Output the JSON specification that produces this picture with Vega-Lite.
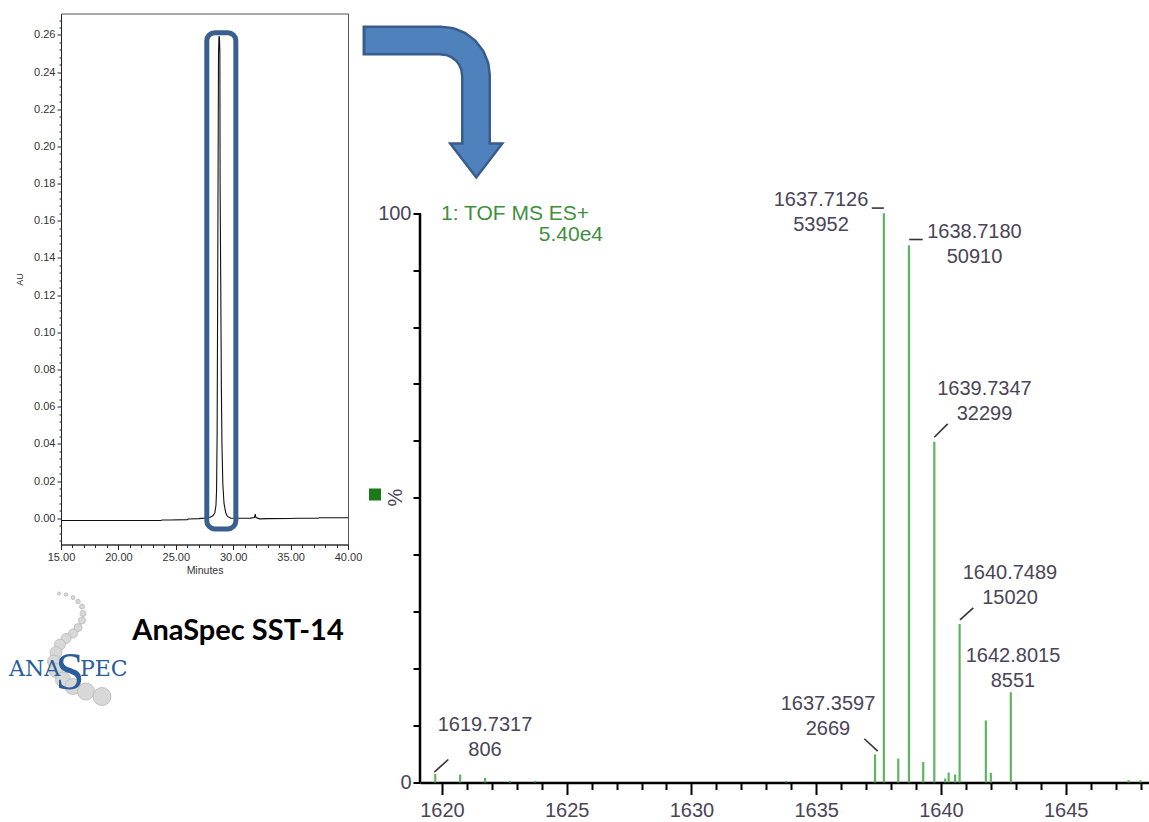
{
  "$schema": "https://vega.github.io/schema/vega-lite/v6.json",
  "background": "white",
  "padding": {"left": 8, "top": 12.5, "right": 0, "bottom": 0},
  "spacing": 72,
  "bounds": "flush",
  "config": {"font": "Liberation Sans", "axis": {"grid": false}},
  "datasets": {
    "chrom": [
      {"t": 15.0, "au": -0.0012}, {"t": 17.0, "au": -0.0012}, {"t": 20.0, "au": -0.0012}, {"t": 22.0, "au": -0.0012},
      {"t": 23.7, "au": -0.0012}, {"t": 23.8, "au": -0.0009}, {"t": 24.5, "au": -0.0009}, {"t": 26.0, "au": -0.0007},
      {"t": 26.1, "au": -0.0004}, {"t": 27.0, "au": -0.0002}, {"t": 27.5, "au": 0.0001}, {"t": 28.0, "au": 0.0006},
      {"t": 28.25, "au": 0.0015}, {"t": 28.4, "au": 0.003}, {"t": 28.5, "au": 0.007}, {"t": 28.55, "au": 0.015},
      {"t": 28.6, "au": 0.045}, {"t": 28.64, "au": 0.11}, {"t": 28.68, "au": 0.18}, {"t": 28.72, "au": 0.25},
      {"t": 28.76, "au": 0.259}, {"t": 28.8, "au": 0.259}, {"t": 28.84, "au": 0.25}, {"t": 28.86, "au": 0.18},
      {"t": 28.9, "au": 0.14}, {"t": 28.93, "au": 0.11}, {"t": 28.97, "au": 0.07}, {"t": 29.02, "au": 0.04},
      {"t": 29.1, "au": 0.018}, {"t": 29.2, "au": 0.008}, {"t": 29.35, "au": 0.003}, {"t": 29.5, "au": 0.001},
      {"t": 29.8, "au": 0.0}, {"t": 30.5, "au": 0.0}, {"t": 31.5, "au": 0.0001}, {"t": 31.85, "au": 0.0004},
      {"t": 31.92, "au": 0.0022}, {"t": 31.98, "au": 0.0004}, {"t": 32.3, "au": -0.0003}, {"t": 33.0, "au": -0.0002},
      {"t": 35.0, "au": -0.0001}, {"t": 35.6, "au": 0.0}, {"t": 37.4, "au": 0.0}, {"t": 37.5, "au": 0.0003},
      {"t": 40.0, "au": 0.0003}
    ],
    "box": [{"t0": 27.70, "t1": 30.23, "a0": -0.0057, "a1": 0.2612}],
    "spheres": [
      {"t": 14.826, "a": -0.04048, "s": 9}, {"t": 15.436, "a": -0.04102, "s": 12}, {"t": 16.045, "a": -0.04264, "s": 16},
      {"t": 16.481, "a": -0.04478, "s": 20}, {"t": 16.829, "a": -0.04747, "s": 25}, {"t": 16.916, "a": -0.05124, "s": 36},
      {"t": 16.829, "a": -0.05500, "s": 49}, {"t": 16.481, "a": -0.05877, "s": 64}, {"t": 16.045, "a": -0.06199, "s": 81},
      {"t": 15.436, "a": -0.06468, "s": 100}, {"t": 14.913, "a": -0.06790, "s": 121}, {"t": 14.564, "a": -0.07220, "s": 144},
      {"t": 14.390, "a": -0.07704, "s": 169}, {"t": 14.564, "a": -0.08188, "s": 196}, {"t": 15.174, "a": -0.08672, "s": 225},
      {"t": 16.045, "a": -0.09048, "s": 256}, {"t": 17.178, "a": -0.09317, "s": 289}, {"t": 18.571, "a": -0.09586, "s": 324}
    ],
    "logoSmall": [
      {"t": 10.470, "a": -0.08081, "txt": "ANA"},
      {"t": 16.655, "a": -0.08081, "txt": "PEC"}
    ],
    "logoBig": [{"t": 15.784, "a": -0.08296, "txt": "S"}],
    "title": [{"t": 30.418, "a": -0.06038, "txt": "AnaSpec SST-14"}],
    "arrowOuter": [
      {"i": 0, "x": 1616.816, "y": 130.33}, {"i": 1, "x": 1619.962, "y": 130.33}, {"i": 2, "x": 1620.325, "y": 130.13},
      {"i": 3, "x": 1620.663, "y": 129.51}, {"i": 4, "x": 1620.954, "y": 128.54}, {"i": 5, "x": 1621.177, "y": 127.26},
      {"i": 6, "x": 1621.317, "y": 125.78}, {"i": 7, "x": 1621.365, "y": 124.18}, {"i": 8, "x": 1621.365, "y": 111.89}
    ],
    "arrowInner": [
      {"i": 0, "x": 1616.936, "y": 130.33}, {"i": 1, "x": 1619.962, "y": 130.33}, {"i": 2, "x": 1620.325, "y": 130.13},
      {"i": 3, "x": 1620.663, "y": 129.51}, {"i": 4, "x": 1620.954, "y": 128.54}, {"i": 5, "x": 1621.177, "y": 127.26},
      {"i": 6, "x": 1621.317, "y": 125.78}, {"i": 7, "x": 1621.365, "y": 124.18}, {"i": 8, "x": 1621.365, "y": 111.2}
    ],
    "arrowHead": [{"x": 1621.375, "y": 109.26}],
    "peaks": [
      {"mz": 1619.7317, "pct": 1.49}, {"mz": 1620.73, "pct": 1.4}, {"mz": 1621.73, "pct": 0.8},
      {"mz": 1622.73, "pct": 0.3}, {"mz": 1623.74, "pct": 0.3}, {"mz": 1633.8, "pct": 0.25},
      {"mz": 1637.3597, "pct": 4.95}, {"mz": 1637.7126, "pct": 100}, {"mz": 1638.29, "pct": 4.2},
      {"mz": 1638.718, "pct": 94.36}, {"mz": 1639.29, "pct": 3.6}, {"mz": 1639.7347, "pct": 59.87},
      {"mz": 1640.17, "pct": 0.7}, {"mz": 1640.31, "pct": 1.75}, {"mz": 1640.57, "pct": 1.4},
      {"mz": 1640.7489, "pct": 27.84}, {"mz": 1641.8, "pct": 10.9}, {"mz": 1642.0, "pct": 1.7},
      {"mz": 1642.8015, "pct": 15.85}, {"mz": 1647.52, "pct": 0.4}, {"mz": 1648.0, "pct": 0.4}
    ],
    "connectors": [
      {"x": 1637.23, "y": 100.9, "x2": 1637.71, "y2": 100.9},
      {"x": 1638.73, "y": 95.38, "x2": 1639.27, "y2": 95.38},
      {"x": 1639.733, "y": 60.65, "x2": 1640.27, "y2": 63.0},
      {"x": 1640.763, "y": 28.58, "x2": 1641.297, "y2": 30.69},
      {"x": 1636.928, "y": 7.68, "x2": 1637.465, "y2": 5.5},
      {"x": 1619.693, "y": 1.81, "x2": 1620.254, "y2": 4.04}
    ],
    "labels": [
      {"x": 1635.192, "y": 101.18, "txt": "1637.7126\n53952"},
      {"x": 1641.344, "y": 95.73, "txt": "1638.7180\n50910"},
      {"x": 1641.745, "y": 68.15, "txt": "1639.7347\n32299"},
      {"x": 1642.767, "y": 35.66, "txt": "1640.7489\n15020"},
      {"x": 1642.888, "y": 21.25, "txt": "1642.8015\n8551"},
      {"x": 1635.473, "y": 12.82, "txt": "1637.3597\n2669"},
      {"x": 1621.725, "y": 9.13, "txt": "1619.7317\n806"}
    ],
    "tofLeft": [{"x": 1619.962, "y": 98.89, "txt": "1: TOF MS ES+"}],
    "tofRight": [{"x": 1626.455, "y": 95.2, "txt": "5.40e4"}],
    "square": [{"x": 1617.316, "y": 50.59}],
    "pctSign": [{"x": 1618.158, "y": 50.06, "txt": "%"}],
    "yRule": [{"x": 1619.12, "y0": 0, "y1": 100}]
  },
  "hconcat": [
    {
      "width": 287,
      "height": 531,
      "view": {"stroke": "#555", "strokeWidth": 1},
      "resolve": {"axis": {"x": "independent", "y": "independent"}},
      "layer": [
        {
          "data": {"name": "chrom"},
          "mark": {"type": "line", "color": "#111", "strokeWidth": 1.1, "clip": false},
          "encoding": {
            "x": {"field": "t", "type": "quantitative",
              "scale": {"domain": [15, 40], "nice": false, "zero": false},
              "axis": {
                "orient": "bottom",
                "values": [15, 20, 25, 30, 35, 40],
                "tickSize": 5, "format": ".2f",
                "labelFontSize": 11, "labelColor": "#333", "labelPadding": 2,
                "labelFlush": false, "labelOverlap": false, "labelBound": false,
                "domainColor": "#222", "tickColor": "#222",
                "title": "Minutes", "titleFontSize": 10.5, "titleFontWeight": "normal", "titleColor": "#333", "titlePadding": 3
              }
            },
            "y": {"field": "au", "type": "quantitative",
              "scale": {"domain": [-0.0141, 0.2715], "nice": false, "zero": false},
              "axis": {
                "orient": "left",
                "values": [0, 0.02, 0.04, 0.06, 0.08, 0.1, 0.12, 0.14, 0.16, 0.18, 0.2, 0.22, 0.24, 0.26],
                "tickSize": 4, "format": ".2f",
                "labelFontSize": 11, "labelColor": "#333", "labelPadding": 2,
                "labelFlush": false, "labelOverlap": false, "labelBound": false,
                "domainColor": "#222", "tickColor": "#222",
                "title": "AU", "titleFontSize": 9, "titleFontWeight": "normal", "titleColor": "#333", "titlePadding": 9
              }
            }
          }
        },
        {
          "data": {"name": "box"},
          "mark": {"type": "rect", "filled": false, "color": "#3a5f8e", "strokeWidth": 5, "cornerRadius": 8, "clip": false},
          "encoding": {
            "x": {"field": "t0", "type": "quantitative", "scale": {"domain": [15, 40], "nice": false, "zero": false},
              "axis": {
                "orient": "bottom",
                "values": [16,17,18,19,21,22,23,24,26,27,28,29,31,32,33,34,36,37,38,39],
                "tickSize": 3, "labels": false, "domain": false, "tickColor": "#222", "title": null
              }
            },
            "x2": {"field": "t1"},
            "y": {"field": "a0", "type": "quantitative", "scale": {"domain": [-0.0141, 0.2715], "nice": false, "zero": false},
              "axis": {
                "orient": "left",
                "values": [-0.012,-0.008,-0.004,0.004,0.008,0.012,0.016,0.024,0.028,0.032,0.036,0.044,0.048,0.052,0.056,0.064,0.068,0.072,0.076,0.084,0.088,0.092,0.096,0.104,0.108,0.112,0.116,0.124,0.128,0.132,0.136,0.144,0.148,0.152,0.156,0.164,0.168,0.172,0.176,0.184,0.188,0.192,0.196,0.204,0.208,0.212,0.216,0.224,0.228,0.232,0.236,0.244,0.248,0.252,0.256,0.264,0.268],
                "tickSize": 2, "labels": false, "domain": false, "tickColor": "#222", "title": null
              }
            },
            "y2": {"field": "a1"}
          }
        },
        {
          "data": {"name": "spheres"},
          "mark": {"type": "point", "shape": "circle", "filled": true, "fill": "#d8d8d8", "stroke": "#b8b8b8", "strokeWidth": 0.8, "opacity": 1, "clip": false},
          "encoding": {
            "x": {"field": "t", "type": "quantitative", "scale": {"domain": [15, 40], "nice": false, "zero": false}, "axis": null},
            "y": {"field": "a", "type": "quantitative", "scale": {"domain": [-0.0141, 0.2715], "nice": false, "zero": false}, "axis": null},
            "size": {"field": "s", "type": "quantitative", "scale": null, "legend": null}
          }
        },
        {
          "data": {"name": "logoSmall"},
          "mark": {"type": "text", "font": "DejaVu Serif", "fontSize": 22, "color": "#2b5d9b", "align": "left", "baseline": "middle", "clip": false},
          "encoding": {
            "x": {"field": "t", "type": "quantitative", "scale": {"domain": [15, 40], "nice": false, "zero": false}, "axis": null},
            "y": {"field": "a", "type": "quantitative", "scale": {"domain": [-0.0141, 0.2715], "nice": false, "zero": false}, "axis": null},
            "text": {"field": "txt"}
          }
        },
        {
          "data": {"name": "logoBig"},
          "mark": {"type": "text", "font": "Liberation Serif", "fontSize": 52, "color": "#2b5d9b", "align": "center", "baseline": "middle", "clip": false},
          "encoding": {
            "x": {"field": "t", "type": "quantitative", "scale": {"domain": [15, 40], "nice": false, "zero": false}, "axis": null},
            "y": {"field": "a", "type": "quantitative", "scale": {"domain": [-0.0141, 0.2715], "nice": false, "zero": false}, "axis": null},
            "text": {"field": "txt"}
          }
        },
        {
          "data": {"name": "title"},
          "mark": {"type": "text", "font": "Lato", "fontWeight": "bold", "fontSize": 29, "color": "#000", "align": "center", "baseline": "middle", "clip": false},
          "encoding": {
            "x": {"field": "t", "type": "quantitative", "scale": {"domain": [15, 40], "nice": false, "zero": false}, "axis": null},
            "y": {"field": "a", "type": "quantitative", "scale": {"domain": [-0.0141, 0.2715], "nice": false, "zero": false}, "axis": null},
            "text": {"field": "txt"}
          }
        }
      ]
    },
    {
      "width": 730,
      "height": 769,
      "view": {"stroke": null},
      "resolve": {"axis": {"x": "independent", "y": "independent"}},
      "layer": [
        {
          "data": {"name": "arrowOuter"},
          "mark": {"type": "line", "color": "#385d8a", "strokeWidth": 30, "strokeCap": "butt", "strokeJoin": "round", "clip": false},
          "encoding": {
            "x": {"field": "x", "type": "quantitative", "scale": {"domain": [1619.12, 1648.38], "nice": false, "zero": false}, "axis": null},
            "y": {"field": "y", "type": "quantitative", "scale": {"domain": [0, 135.08], "nice": false, "zero": false}, "axis": null},
            "order": {"field": "i", "type": "quantitative"}
          }
        },
        {
          "data": {"name": "arrowHead"},
          "mark": {"type": "point", "shape": "M-1,-0.65L1,-0.65L0,0.65Z", "size": 2704, "filled": true, "fill": "#4f81bd", "stroke": "#385d8a", "strokeWidth": 2.5, "opacity": 1, "clip": false},
          "encoding": {
            "x": {"field": "x", "type": "quantitative", "scale": {"domain": [1619.12, 1648.38], "nice": false, "zero": false}, "axis": null},
            "y": {"field": "y", "type": "quantitative", "scale": {"domain": [0, 135.08], "nice": false, "zero": false}, "axis": null}
          }
        },
        {
          "data": {"name": "arrowInner"},
          "mark": {"type": "line", "color": "#4f81bd", "strokeWidth": 25, "strokeCap": "butt", "strokeJoin": "round", "clip": false},
          "encoding": {
            "x": {"field": "x", "type": "quantitative", "scale": {"domain": [1619.12, 1648.38], "nice": false, "zero": false}, "axis": null},
            "y": {"field": "y", "type": "quantitative", "scale": {"domain": [0, 135.08], "nice": false, "zero": false}, "axis": null},
            "order": {"field": "i", "type": "quantitative"}
          }
        },
        {
          "data": {"name": "peaks"},
          "mark": {"type": "rule", "color": "#5fb45f", "strokeWidth": 2.2},
          "encoding": {
            "x": {"field": "mz", "type": "quantitative",
              "scale": {"domain": [1619.12, 1648.38], "nice": false, "zero": false},
              "axis": {
                "orient": "bottom",
                "values": [1620, 1625, 1630, 1635, 1640, 1645],
                "tickSize": 12, "tickWidth": 2, "tickColor": "#000", "domainColor": "#000", "domainWidth": 2.5,
                "format": "d",
                "labelFontSize": 20, "labelColor": "#4a4458", "labelPadding": 6,
                "labelFlush": false, "labelOverlap": false, "labelBound": false,
                "title": null
              }
            },
            "y": {"field": "pct", "type": "quantitative",
              "scale": {"domain": [0, 135.08], "nice": false, "zero": false},
              "axis": {
                "orient": "left",
                "values": [0, 10, 20, 30, 40, 50, 60, 70, 80, 90, 100],
                "domain": false, "tickSize": 7, "tickWidth": 2, "tickColor": "#000",
                "labelExpr": "datum.value == 100 ? '100' : (datum.value == 0 ? '0' : '')",
                "labelFontSize": 20, "labelColor": "#4a4458", "labelPadding": 2,
                "labelFlush": false, "labelOverlap": false, "labelBound": false,
                "title": null
              }
            },
            "y2": {"datum": 0}
          }
        },
        {
          "data": {"name": "yRule"},
          "mark": {"type": "rule", "color": "#000", "strokeWidth": 2.5},
          "encoding": {
            "x": {"field": "x", "type": "quantitative", "scale": {"domain": [1619.12, 1648.38], "nice": false, "zero": false},
              "axis": {
                "orient": "bottom",
                "values": [1621,1622,1623,1624,1626,1627,1628,1629,1631,1632,1633,1634,1636,1637,1638,1639,1641,1642,1643,1644,1646,1647,1648],
                "tickSize": 7, "tickWidth": 2, "tickColor": "#000", "labels": false, "domain": false, "title": null
              }
            },
            "y": {"field": "y0", "type": "quantitative", "scale": {"domain": [0, 135.08], "nice": false, "zero": false}, "axis": null},
            "y2": {"field": "y1"}
          }
        },
        {
          "data": {"name": "connectors"},
          "mark": {"type": "rule", "color": "#333", "strokeWidth": 1.6},
          "encoding": {
            "x": {"field": "x", "type": "quantitative", "scale": {"domain": [1619.12, 1648.38], "nice": false, "zero": false}, "axis": null},
            "y": {"field": "y", "type": "quantitative", "scale": {"domain": [0, 135.08], "nice": false, "zero": false}, "axis": null},
            "x2": {"field": "x2"},
            "y2": {"field": "y2"}
          }
        },
        {
          "data": {"name": "labels"},
          "mark": {"type": "text", "fontSize": 20, "color": "#4a4458", "align": "center", "baseline": "alphabetic", "lineBreak": "\n", "lineHeight": 25, "clip": false},
          "encoding": {
            "x": {"field": "x", "type": "quantitative", "scale": {"domain": [1619.12, 1648.38], "nice": false, "zero": false}, "axis": null},
            "y": {"field": "y", "type": "quantitative", "scale": {"domain": [0, 135.08], "nice": false, "zero": false}, "axis": null},
            "text": {"field": "txt"}
          }
        },
        {
          "data": {"name": "tofLeft"},
          "mark": {"type": "text", "fontSize": 21, "color": "#3f8f3f", "align": "left", "baseline": "alphabetic", "clip": false},
          "encoding": {
            "x": {"field": "x", "type": "quantitative", "scale": {"domain": [1619.12, 1648.38], "nice": false, "zero": false}, "axis": null},
            "y": {"field": "y", "type": "quantitative", "scale": {"domain": [0, 135.08], "nice": false, "zero": false}, "axis": null},
            "text": {"field": "txt"}
          }
        },
        {
          "data": {"name": "tofRight"},
          "mark": {"type": "text", "fontSize": 21, "color": "#3f8f3f", "align": "right", "baseline": "alphabetic", "clip": false},
          "encoding": {
            "x": {"field": "x", "type": "quantitative", "scale": {"domain": [1619.12, 1648.38], "nice": false, "zero": false}, "axis": null},
            "y": {"field": "y", "type": "quantitative", "scale": {"domain": [0, 135.08], "nice": false, "zero": false}, "axis": null},
            "text": {"field": "txt"}
          }
        },
        {
          "data": {"name": "square"},
          "mark": {"type": "point", "shape": "square", "size": 144, "filled": true, "color": "#1a7a1a", "opacity": 1, "clip": false},
          "encoding": {
            "x": {"field": "x", "type": "quantitative", "scale": {"domain": [1619.12, 1648.38], "nice": false, "zero": false}, "axis": null},
            "y": {"field": "y", "type": "quantitative", "scale": {"domain": [0, 135.08], "nice": false, "zero": false}, "axis": null}
          }
        },
        {
          "data": {"name": "pctSign"},
          "mark": {"type": "text", "fontSize": 20, "color": "#4a4458", "align": "center", "baseline": "middle", "angle": 270, "clip": false},
          "encoding": {
            "x": {"field": "x", "type": "quantitative", "scale": {"domain": [1619.12, 1648.38], "nice": false, "zero": false}, "axis": null},
            "y": {"field": "y", "type": "quantitative", "scale": {"domain": [0, 135.08], "nice": false, "zero": false}, "axis": null},
            "text": {"field": "txt"}
          }
        }
      ]
    }
  ]
}
